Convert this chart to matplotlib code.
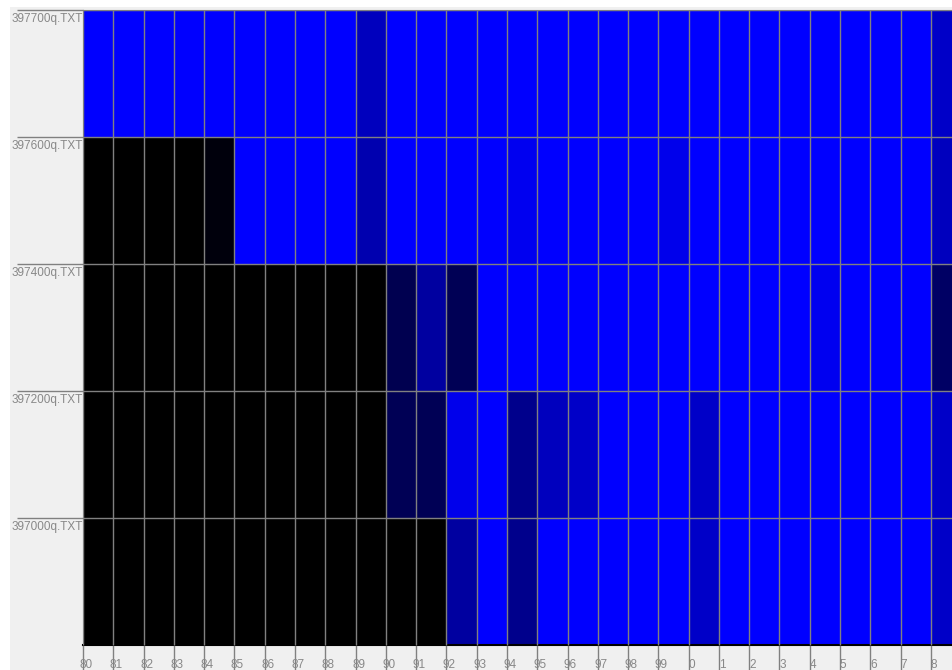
import numpy as np
import matplotlib
matplotlib.use("Agg")
import matplotlib.pyplot as plt
from matplotlib.colors import LinearSegmentedColormap
from matplotlib.patches import Rectangle

# rows (top to bottom) and columns of the grid
files = ["397700q.TXT", "397600q.TXT", "397400q.TXT", "397200q.TXT", "397000q.TXT"]
years = [str(y) for y in range(80, 100)] + [str(y) for y in range(0, 9)]

# blue intensity of each cell, 0 = black, 255 = full blue
row_397700 = [255, 255, 255, 255, 255, 255, 255, 255, 255, 190,
              255, 255, 255, 255, 255, 255, 255, 255, 255, 255,
              255, 255, 255, 255, 255, 255, 255, 255, 200]
row_397600 = [0, 0, 0, 0, 12, 255, 255, 255, 255, 175,
              255, 255, 255, 255, 240, 255, 255, 255, 255, 235,
              255, 255, 255, 255, 255, 255, 255, 255, 190]
row_397400 = [0, 0, 0, 0, 0, 0, 0, 0, 0, 0,
              80, 160, 85, 255, 255, 255, 255, 255, 255, 255,
              255, 255, 255, 255, 240, 255, 255, 255, 100]
row_397200 = [0, 0, 0, 0, 0, 0, 0, 0, 0, 0,
              85, 85, 235, 255, 140, 190, 200, 255, 255, 255,
              200, 255, 255, 255, 255, 255, 255, 255, 200]
row_397000 = [0, 0, 0, 0, 0, 0, 0, 0, 0, 0,
              0, 0, 160, 255, 140, 255, 255, 255, 255, 255,
              200, 255, 255, 255, 255, 255, 255, 255, 200]

data = np.array([row_397700, row_397600, row_397400, row_397200, row_397000])

plt.rcParams["font.family"] = ["Liberation Sans", "DejaVu Sans"]

fig = plt.figure(figsize=(9.53, 6.70), dpi=100, facecolor="white")
fig.patches.append(Rectangle((10 / 953, 0), 1, 663 / 670, transform=fig.transFigure,
                             facecolor="#f0f0f0", edgecolor="none", zorder=-1))
ax = fig.add_axes([83 / 953, 25 / 670, 870 / 953, 635 / 670])

cmap = LinearSegmentedColormap.from_list("black_blue", ["#000000", "#0000ff"])
ax.pcolormesh(np.arange(len(years) + 1), np.arange(len(files) + 1), data,
              cmap=cmap, vmin=0, vmax=255)
ax.set_xlim(0, 28.73)
ax.set_ylim(len(files), 0)

# x: long tick lines at column edges, labels just right of them
ax.set_xticks(np.arange(len(years)))
ax.set_xticks(np.arange(len(years)) + 0.1, years, minor=True)
ax.tick_params(axis="x", which="major", length=18, width=1, color="#808080", labelbottom=False)
ax.tick_params(axis="x", which="minor", length=0, pad=10, labelsize=8.5, labelcolor="#888888")

# y: long tick lines at row tops, labels just below them
ax.set_yticks(np.arange(len(files)))
ax.set_yticks(np.arange(len(files)) + 0.022, files, minor=True)
ax.tick_params(axis="y", which="major", length=47.5, width=1, color="#808080", labelleft=False)
ax.tick_params(axis="y", which="minor", length=0, pad=0, labelsize=8.5, labelcolor="#888888")
for lbl in ax.get_yticklabels(minor=True):
    lbl.set_verticalalignment("top")

# cell borders
ax.set_axisbelow(False)
ax.grid(which="major", color="#808080", linewidth=1.0)

ax.spines["top"].set_color("#808080")
ax.spines["left"].set_color("#404040")
ax.spines["bottom"].set_color("#000000")
ax.spines["bottom"].set_linewidth(1.5)
ax.spines["right"].set_visible(False)

fig.savefig("out.png", dpi=100, facecolor=fig.get_facecolor())
